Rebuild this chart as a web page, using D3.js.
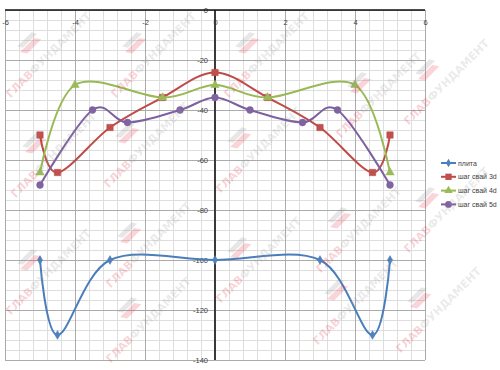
<!DOCTYPE html>
<html><head><meta charset="utf-8">
<script src="https://cdn.jsdelivr.net/npm/d3@7"></script>
<style>body{margin:0;background:#fff}svg{display:block}</style>
</head><body>
<script>
const seriesNames = ["плита","шаг свай 3d","шаг свай 4d","шаг свай 5d"];
const plitaX = [-5,-4.5,-3,0,3,4.5,5];
const plitaY = [-100,-130,-100,-100,-100,-130,-100];
const s3dX = [-5,-4.5,-3,-1.5,0,1.5,3,4.5,5];
const s3dY = [-50,-65,-47,-35,-25,-35,-47,-65,-50];
const s4dX = [-5,-4,-1.5,0,1.5,4,5];
const s4dY = [-65,-30,-35,-30,-35,-30,-65];
const s5dX = [-5,-3.5,-2.5,-1,0,1,2.5,3.5,5];
const s5dY = [-70,-40,-45,-40,-35,-40,-45,-40,-70];
const xTicks = [-6,-4,-2,0,2,4,6];
const yTicks = [0,-20,-40,-60,-80,-100,-120,-140];
const watermarkText = ["ГЛАВ","ФУНДАМЕНТ"];
const wmPos = [[30,45],[135,45],[248,45],[360,85],[428,72],[35,145],[128,135],[240,140],[340,220],[428,200],[130,235],[30,262],[240,250],[337,292],[420,300],[130,310]];

const W=500,H=370;
const svg=d3.select("body").append("svg").attr("width",W).attr("height",H);
const x=d3.scaleLinear().domain([-6,6]).range([5,425]);
const y=d3.scaleLinear().domain([0,-140]).range([10,360]);

// grid
const g=svg.append("g");
const minorX=d3.range(-6,6.001,0.4), minorY=d3.range(0,-140.001,-4);
g.selectAll(".mx").data(minorX).join("line").attr("x1",d=>x(d)).attr("x2",d=>x(d)).attr("y1",y(0)).attr("y2",y(-140)).attr("stroke","#dedede").attr("stroke-width",1).attr("shape-rendering","crispEdges");
g.selectAll(".my").data(minorY).join("line").attr("y1",d=>y(d)).attr("y2",d=>y(d)).attr("x1",x(-6)).attr("x2",x(6)).attr("stroke","#dedede").attr("stroke-width",1).attr("shape-rendering","crispEdges");
g.selectAll(".Mx").data(xTicks).join("line").attr("x1",d=>x(d)).attr("x2",d=>x(d)).attr("y1",y(0)).attr("y2",y(-140)).attr("stroke","#ababab").attr("stroke-width",1).attr("shape-rendering","crispEdges");
g.selectAll(".My").data(yTicks).join("line").attr("y1",d=>y(d)).attr("y2",d=>y(d)).attr("x1",x(-6)).attr("x2",x(6)).attr("stroke","#ababab").attr("stroke-width",1).attr("shape-rendering","crispEdges");

// axes
const xa=svg.append("g").attr("transform",`translate(0,${y(0)})`)
 .call(d3.axisBottom(x).tickValues(xTicks).tickSize(0).tickPadding(10).tickFormat(d=>String(d)));
xa.select(".domain").remove();
const ya=svg.append("g").attr("transform",`translate(${x(0)},0)`)
 .call(d3.axisLeft(y).tickValues(yTicks).tickSize(0).tickPadding(7).tickFormat(d=>String(d)));
ya.select(".domain").remove();
svg.selectAll(".tick text").attr("font-family","Liberation Sans, Arial, sans-serif").attr("font-size",7.5).attr("fill","#404040");
svg.append("line").attr("x1",x(0)).attr("x2",x(0)).attr("y1",y(0)).attr("y2",y(-140)).attr("stroke","#3a3a3a").attr("stroke-width",2);
svg.append("line").attr("x1",x(-6)).attr("x2",x(6)).attr("y1",y(0)).attr("y2",y(0)).attr("stroke","#111").attr("stroke-width",1.5);

const series=[
 {name:seriesNames[0],xs:plitaX,ys:plitaY,color:"#4a7ebb",fill:"#4f81bd",m:"diamond"},
 {name:seriesNames[1],xs:s3dX,ys:s3dY,color:"#be4b48",fill:"#c0504d",m:"square"},
 {name:seriesNames[2],xs:s4dX,ys:s4dY,color:"#98b954",fill:"#9bbb59",m:"triangle"},
 {name:seriesNames[3],xs:s5dX,ys:s5dY,color:"#7d60a0",fill:"#8064a2",m:"circle"}
];
const symType={diamond:d3.symbolDiamond,square:d3.symbolSquare,triangle:d3.symbolTriangle,circle:d3.symbolCircle};
const symSize={diamond:22,square:40,triangle:30,circle:36};
const line=d3.line().x(d=>x(d[0])).y(d=>y(d[1])).curve(d3.curveCardinal.tension(0));
series.forEach(s=>{
  const pts=s.xs.map((v,i)=>[v,s.ys[i]]);
  svg.append("path").datum(pts).attr("d",line).attr("fill","none").attr("stroke",s.color).attr("stroke-width",2);
  svg.selectAll(null).data(pts).join("path").attr("transform",d=>`translate(${x(d[0])},${y(d[1])})`)
    .attr("d",d3.symbol().type(symType[s.m]).size(symSize[s.m])).attr("fill",s.fill).attr("stroke",s.color).attr("stroke-width",0.6);
});

// legend
const lg=svg.append("g").attr("transform","translate(441,163)");
series.forEach((s,i)=>{
  const r=lg.append("g").attr("transform",`translate(0,${i*13.8})`);
  r.append("line").attr("x1",0).attr("x2",15).attr("stroke",s.color).attr("stroke-width",2);
  r.append("path").attr("transform","translate(7.5,0)").attr("d",d3.symbol().type(symType[s.m]).size(symSize[s.m])).attr("fill",s.fill);
  r.append("text").attr("x",17).attr("y",2.5).text(s.name).attr("font-family","Liberation Sans, Arial, sans-serif").attr("font-size",7).attr("fill","#404040");
});

// watermark
const wm=svg.append("g").attr("opacity",0.2).attr("pointer-events","none");
wmPos.forEach(p=>{
  const w=wm.append("g").attr("transform",`translate(${p[0]},${p[1]}) rotate(-45)`);
  w.append("path").attr("d","M-12,-2 L8,-2 L12,4 L-8,4 Z").attr("fill","#e03040");
  w.append("path").attr("d","M-10,-8 L10,-8 L13,-3 L-7,-3 Z").attr("fill","#888");
  const t=w.append("text").attr("x",6).attr("y",24).attr("text-anchor","middle").attr("font-family","DejaVu Sans, sans-serif").attr("font-weight","bold").attr("font-size",11);
  t.append("tspan").text(watermarkText[0]).attr("fill","#e03040");
  t.append("tspan").text(watermarkText[1]).attr("fill","#999");
});
</script>
</body></html>
